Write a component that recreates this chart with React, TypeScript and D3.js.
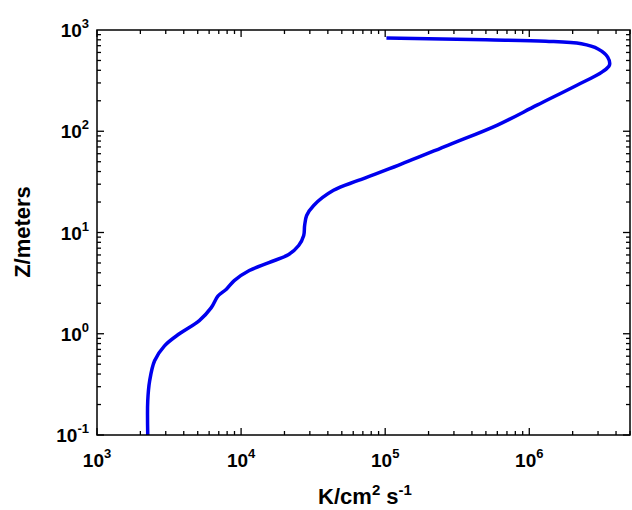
import React, { useEffect, useRef } from 'react';
import * as d3 from 'd3';

// curve: K (cm^2 s^-1) vs height Z (m)
const kValues = [2250, 2250, 2320, 2510, 2940, 3730, 5130, 6210, 6900, 7900, 8960, 11400, 15600, 21400, 25100, 27200, 27600, 28500, 31900, 43800, 65100, 123000, 272000, 601000, 1130000, 2140000, 3190000, 3600000, 3500000, 3000000, 2300000, 1300000, 500000, 102000];
const zValues = [0.1, 0.217, 0.343, 0.541, 0.76, 1.0, 1.35, 1.81, 2.35, 2.75, 3.35, 4.21, 5.05, 6.06, 7.43, 9.33, 11.7, 14.7, 18.5, 26.1, 32.7, 46.0, 72.6, 115, 181, 285, 384, 450, 540, 650, 730, 775, 800, 833];
const xMajor = [1e3, 1e4, 1e5, 1e6];
const yMajor = [0.1, 1, 10, 100, 1000];

const App: React.FC = () => {
  const ref = useRef<SVGSVGElement | null>(null);

  useEffect(() => {
    if (!ref.current) return;
    const svg = d3.select(ref.current);
    svg.selectAll('*').remove();

    const left = 97, right = 630, top = 30, bottom = 435;
    const x = d3.scaleLog().domain([1e3, 5e6]).range([left, right]);
    const y = d3.scaleLog().domain([0.1, 1000]).range([bottom, top]);
    const font = 'Liberation Sans, Arial, sans-serif';

    const xMinor: number[] = [];
    for (let d = 1e3; d < 5e6; d *= 10) for (let m = 1; m < 10; m++) if (d * m <= 5e6) xMinor.push(d * m);
    const yMinor: number[] = [];
    for (let d = 0.1; d < 1000; d *= 10) for (let m = 1; m < 10; m++) yMinor.push(d * m);

    const g = svg.append('g').attr('stroke', '#000').attr('stroke-width', 1.3);
    xMinor.forEach(v => {
      const len = xMajor.includes(v) ? 7 : 4;
      g.append('line').attr('x1', x(v)).attr('x2', x(v)).attr('y1', bottom).attr('y2', bottom - len);
      g.append('line').attr('x1', x(v)).attr('x2', x(v)).attr('y1', top).attr('y2', top + len);
    });
    yMinor.forEach(v => {
      const len = yMajor.some(m => Math.abs(m - v) / m < 1e-6) ? 7 : 4;
      g.append('line').attr('y1', y(v)).attr('y2', y(v)).attr('x1', left).attr('x2', left + len);
      g.append('line').attr('y1', y(v)).attr('y2', y(v)).attr('x1', right).attr('x2', right - len);
    });

    const line = d3.line<number>()
      .x(i => x(kValues[i]))
      .y(i => y(zValues[i]))
      .curve(d3.curveCatmullRom);
    svg.append('path')
      .attr('d', line(d3.range(kValues.length)))
      .attr('fill', 'none').attr('stroke', '#0000ee').attr('stroke-width', 3.5);

    svg.append('rect').attr('x', left).attr('y', top).attr('width', right - left).attr('height', bottom - top)
      .attr('fill', 'none').attr('stroke', '#000').attr('stroke-width', 1.5);

    xMajor.forEach(v => {
      const t = svg.append('text').attr('x', x(v)).attr('y', 467).attr('text-anchor', 'middle')
        .attr('font-family', font).attr('font-weight', 'bold').attr('font-size', 19);
      t.append('tspan').text('10');
      t.append('tspan').attr('dy', -9).attr('font-size', 13).text(String(Math.round(Math.log10(v))));
    });
    yMajor.forEach(v => {
      const t = svg.append('text').attr('x', 89).attr('y', y(v) + 7).attr('text-anchor', 'end')
        .attr('font-family', font).attr('font-weight', 'bold').attr('font-size', 19);
      t.append('tspan').text('10');
      t.append('tspan').attr('dy', -9).attr('font-size', 13).text(String(Math.round(Math.log10(v))));
    });

    const xt = svg.append('text').attr('x', 365).attr('y', 504).attr('text-anchor', 'middle')
      .attr('font-family', font).attr('font-weight', 'bold').attr('font-size', 22);
    xt.append('tspan').text('K/cm');
    xt.append('tspan').attr('dy', -9).attr('font-size', 15).text('2');
    xt.append('tspan').attr('dy', 9).text(' s');
    xt.append('tspan').attr('dy', -9).attr('font-size', 15).text('-1');

    svg.append('text').attr('transform', 'translate(30,232) rotate(-90)').attr('text-anchor', 'middle')
      .attr('font-family', font).attr('font-weight', 'bold').attr('font-size', 22).text('Z/meters');
  }, []);

  return <svg ref={ref} width={632} height={510} style={{ position: 'absolute', left: 0, top: 0, background: '#fff' }} />;
};

export default App;
